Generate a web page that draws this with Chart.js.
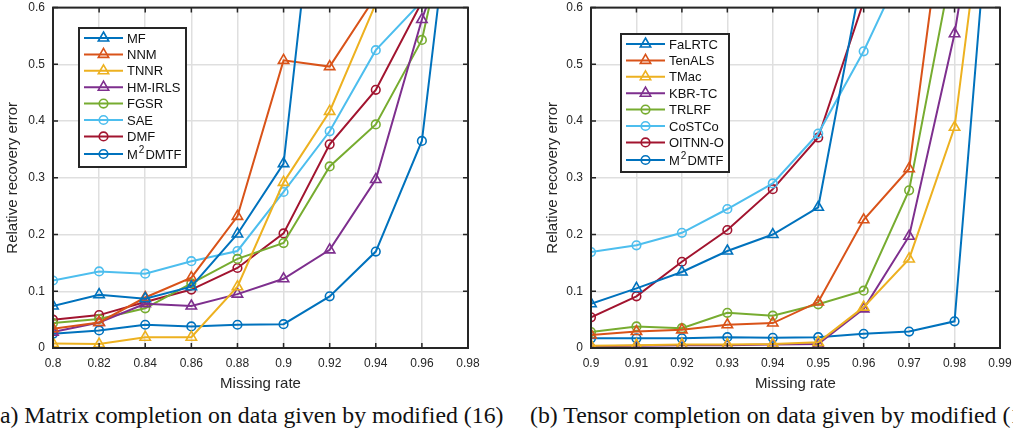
<!DOCTYPE html>
<html>
<head>
<meta charset="utf-8">
<script src="https://cdn.jsdelivr.net/npm/chart.js@4.4.0/dist/chart.umd.min.js"></script>
<style>
  html, body { margin: 0; padding: 0; background: #fff; width: 1013px; height: 434px; overflow: hidden; }
  .wrap { position: absolute; top: 0; }
  .cap { position: absolute; top: 402px; font-family: "Liberation Serif", "DejaVu Serif", serif; font-size: 23.8px; line-height: 26px; color: #111; white-space: nowrap; }
</style>
</head>
<body>
<div class="wrap" style="left:0px"><canvas id="chartA" width="484" height="395"></canvas></div>
<div class="wrap" style="left:540px"><canvas id="chartB" width="473" height="395"></canvas></div>
<div class="cap" style="left:-8px">(a) Matrix completion on data given by modified (16)</div>
<div class="cap" style="left:530px">(b) Tensor completion on data given by modified (17)</div>
<script>
// ---- data (a) matrix completion ----
const rateA = [0.8, 0.82, 0.84, 0.86, 0.88, 0.9, 0.92, 0.94, 0.96, 0.98];
const namesA = ['MF', 'NNM', 'TNNR', 'HM-IRLS', 'FGSR', 'SAE', 'DMF', 'M²DMTF'];
const mf     = [0.074, 0.094, 0.087, 0.108, 0.201, 0.325, 1.05, null, null, null];
const nnm    = [0.034, 0.045, 0.089, 0.124, 0.232, 0.507, 0.496, 0.62, null, null];
const tnnr   = [0.008, 0.007, 0.019, 0.019, 0.108, 0.292, 0.417, 0.607, null, null];
const hmirls = [0.028, 0.045, 0.078, 0.074, 0.095, 0.122, 0.173, 0.297, 0.579, 0.81];
const fgsr   = [0.044, 0.051, 0.07, 0.114, 0.157, 0.185, 0.32, 0.394, 0.543, 0.91];
const sae    = [0.119, 0.135, 0.131, 0.153, 0.171, 0.275, 0.382, 0.525, 0.611, null];
const dmf    = [0.05, 0.058, 0.081, 0.103, 0.141, 0.202, 0.359, 0.455, 0.61, null];
const m2A    = [0.025, 0.031, 0.041, 0.038, 0.041, 0.042, 0.091, 0.17, 0.365, 1.045];

// ---- data (b) tensor completion ----
const rateB = [0.9, 0.91, 0.92, 0.93, 0.94, 0.95, 0.96, 0.97, 0.98, 0.99];
const namesB = ['FaLRTC', 'TenALS', 'TMac', 'KBR-TC', 'TRLRF', 'CoSTCo', 'OITNN-O', 'M²DMTF'];
const falrtc = [0.078, 0.105, 0.134, 0.171, 0.2, 0.248, 0.673, null, null, null];
const tenals = [0.023, 0.029, 0.032, 0.041, 0.044, 0.081, 0.226, 0.316, 0.92, null];
const tmac   = [0.004, 0.005, 0.006, 0.006, 0.007, 0.01, 0.072, 0.157, 0.389, 1.02];
const kbrtc  = [0.003, 0.004, 0.005, 0.005, 0.006, 0.007, 0.069, 0.197, 0.554, 1.05];
const trlrf  = [0.028, 0.038, 0.035, 0.062, 0.057, 0.077, 0.101, 0.278, 0.696, null];
const costco = [0.169, 0.181, 0.203, 0.245, 0.29, 0.378, 0.523, 0.694, null, null];
const oitnn  = [0.054, 0.091, 0.152, 0.208, 0.28, 0.371, 0.611, null, null, null];
const m2B    = [0.017, 0.017, 0.017, 0.019, 0.018, 0.019, 0.025, 0.029, 0.047, 1.02];

const errTicks = [0, 0.1, 0.2, 0.3, 0.4, 0.5, 0.6];

// matlab default line colours
const colors = ['#0072BD', '#D95319', '#EDB120', '#7E2F8E', '#77AC30', '#4DBEEE', '#A2142F', '#0072BD'];
const markers = ['triangle', 'triangle', 'triangle', 'triangle', 'circle', 'circle', 'circle', 'circle'];
const ink = '#262626';

function makeSets(rates, names, series) {
    return series.map((vals, i) => ({
        label: names[i],
        data: rates.map((x, j) => ({ x: x, y: vals[j] })).filter(p => p.y !== null),
        borderColor: colors[i],
        backgroundColor: colors[i],
        pointBorderColor: colors[i],
        pointBackgroundColor: 'rgba(0,0,0,0)',
        pointStyle: markers[i],
        pointRadius: markers[i] === 'triangle' ? 6 : 4.3,
        pointBorderWidth: 1.6,
        borderWidth: 2,
        tension: 0
    }));
}

// box, inward ticks and the matlab-looking legend
const matlabBox = {
    id: 'matlabBox',
    afterDatasetsDraw(chart, args, opts) {
        const ctx = chart.ctx;
        const a = chart.chartArea;
        const xs = chart.scales.x, ys = chart.scales.y;
        ctx.save();
        ctx.strokeStyle = ink;
        ctx.lineWidth = 1.5;
        ctx.beginPath();
        xs.ticks.forEach(t => {
            const px = xs.getPixelForValue(t.value);
            ctx.moveTo(px, a.bottom); ctx.lineTo(px, a.bottom - 5);
            ctx.moveTo(px, a.top); ctx.lineTo(px, a.top + 5);
        });
        ys.ticks.forEach(t => {
            const py = ys.getPixelForValue(t.value);
            ctx.moveTo(a.left, py); ctx.lineTo(a.left + 5, py);
            ctx.moveTo(a.right, py); ctx.lineTo(a.right - 5, py);
        });
        ctx.stroke();
        ctx.lineWidth = 2;
        ctx.strokeRect(a.left, a.top, a.right - a.left, a.bottom - a.top);

        // legend
        const L = opts.legend;
        ctx.fillStyle = '#fff';
        ctx.fillRect(L.x, L.y, L.w, L.h);
        ctx.lineWidth = 2;
        ctx.strokeStyle = ink;
        ctx.strokeRect(L.x, L.y, L.w, L.h);
        chart.data.datasets.forEach((ds, i) => {
            const y = i < 7 ? L.y + 10 + i * 16.4 : L.y + 126;
            const x0 = L.x + 5, x1 = L.x + 44;
            ctx.strokeStyle = ds.borderColor;
            ctx.lineWidth = 2;
            ctx.beginPath(); ctx.moveTo(x0, y); ctx.lineTo(x1, y); ctx.stroke();
            ctx.lineWidth = ds.pointBorderWidth;
            ctx.fillStyle = 'rgba(0,0,0,0)';
            Chart.helpers.drawPoint(ctx, {
                pointStyle: ds.pointStyle, radius: ds.pointRadius, rotation: 0, borderWidth: ds.pointBorderWidth
            }, (x0 + x1) / 2, y);
            ctx.fillStyle = '#111';
            ctx.textBaseline = 'middle';
            ctx.textAlign = 'left';
            let tx = L.x + 48;
            const parts = ds.label.split('²');
            ctx.font = '13px "Liberation Sans", Arial, sans-serif';
            ctx.fillText(parts[0], tx, y + 1);
            if (parts.length > 1) {
                tx += ctx.measureText(parts[0]).width + 1;
                ctx.font = '10px "Liberation Sans", Arial, sans-serif';
                ctx.fillText('2', tx, y - 4);
                tx += ctx.measureText('2').width + 1;
                ctx.font = '13px "Liberation Sans", Arial, sans-serif';
                ctx.fillText(parts[1], tx, y + 1);
            }
        });
        ctx.restore();
    }
};

function fmt(v) { return String(+(+v).toFixed(2)); }

function makeChart(id, rates, names, series, yWidth, padRight, legend) {
    return new Chart(document.getElementById(id), {
        type: 'line',
        data: { datasets: makeSets(rates, names, series) },
        plugins: [matlabBox],
        options: {
            responsive: false,
            animation: false,
            devicePixelRatio: 1,
            layout: { padding: { top: 7, right: padRight, bottom: 0, left: 0 } },
            plugins: {
                legend: { display: false },
                tooltip: { enabled: false },
                matlabBox: { legend: legend }
            },
            scales: {
                x: {
                    type: 'linear',
                    min: rates[0],
                    max: rates[rates.length - 1],
                    afterBuildTicks: s => { s.ticks = rates.map(v => ({ value: v })); },
                    afterFit: s => { s.height = 47; s.paddingLeft = 0; s.paddingRight = 0; },
                    border: { display: false },
                    grid: { color: '#dfdfdf', lineWidth: 1.5, drawTicks: false },
                    ticks: {
                        color: ink, padding: 8, maxRotation: 0, autoSkip: false,
                        font: { family: '"Liberation Sans", Arial, sans-serif', size: 12 },
                        callback: v => fmt(v)
                    },
                    title: {
                        display: true, text: 'Missing rate', color: ink, padding: { top: 2, bottom: 2 },
                        font: { family: '"Liberation Sans", Arial, sans-serif', size: 15 }
                    }
                },
                y: {
                    min: 0,
                    max: 0.6,
                    afterBuildTicks: s => { s.ticks = errTicks.map(v => ({ value: v })); },
                    afterFit: s => { s.width = yWidth; s.paddingTop = 0; s.paddingBottom = 0; },
                    border: { display: false },
                    grid: { color: '#dfdfdf', lineWidth: 1.5, drawTicks: false },
                    ticks: {
                        color: ink, padding: 8,
                        font: { family: '"Liberation Sans", Arial, sans-serif', size: 12 },
                        callback: v => fmt(v)
                    },
                    title: {
                        display: true, text: 'Relative recovery error', color: ink, padding: { top: 4, bottom: 4 },
                        font: { family: '"Liberation Sans", Arial, sans-serif', size: 15 }
                    }
                }
            }
        }
    });
}

makeChart('chartA', rateA, namesA, [mf, nnm, tnnr, hmirls, fgsr, sae, dmf, m2A], 53, 16,
    { x: 79, y: 28, w: 107, h: 139 });
makeChart('chartB', rateB, namesB, [falrtc, tenals, tmac, kbrtc, trlrf, costco, oitnn, m2B], 51, 13,
    { x: 81, y: 34, w: 108, h: 138 });
</script>
</body>
</html>
